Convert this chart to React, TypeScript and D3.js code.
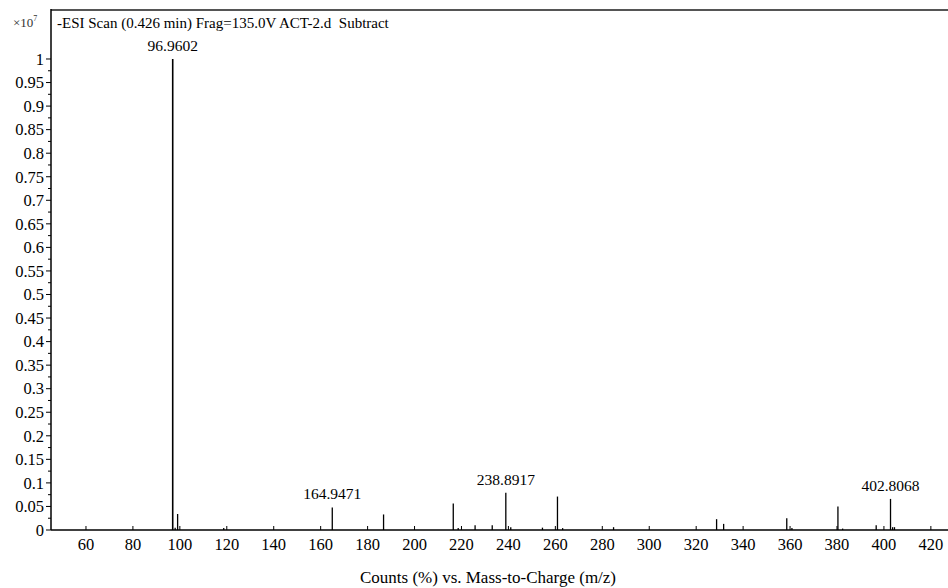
import React from "react";
import * as d3 from "d3";

// Mass spectrum peaks: m/z and relative counts (x10^7)
const peakMz: number[] = [
  96.9602, 98.0, 99.05, 118.7, 164.9471, 186.8, 216.5, 218.6, 225.8, 233.1,
  238.8917, 241.0, 254.5, 260.9, 263.1, 284.8, 328.7, 331.7, 358.6, 360.8,
  380.4, 382.4, 396.7, 402.8068, 403.7, 404.5,
];
const peakCounts: number[] = [
  1.0, 0.005, 0.034, 0.004, 0.048, 0.033, 0.056, 0.004, 0.01, 0.01,
  0.079, 0.006, 0.005, 0.071, 0.004, 0.006, 0.023, 0.013, 0.025, 0.004,
  0.05, 0.003, 0.01, 0.066, 0.006, 0.006,
];
// Peaks that carry an m/z annotation
const labeledPeaks: number[] = [96.9602, 164.9471, 238.8917, 402.8068];

const xTickValues: number[] = d3.range(60, 421, 20);
const yTickValues: number[] = d3.range(0, 1.0001, 0.05);
const yMinorValues: number[] = d3.range(0.025, 1.0, 0.05);

const title = "-ESI Scan (0.426 min) Frag=135.0V ACT-2.d\u00a0\u00a0Subtract";
const xTitle = "Counts (%) vs. Mass-to-Charge (m/z)";

const W = 948;
const H = 588;
const left = 51;
const top = 10;
const bottom = 530;
const right = 948;

const FONT = "'Liberation Serif', 'Times New Roman', serif";

export default function App() {
  const x = d3.scaleLinear().domain([45.1, 427.3]).range([left, right]);
  const y = d3.scaleLinear().domain([0, 1.104]).range([bottom, top]);

  const fmtY = (v: number) => {
    const r = Math.round(v * 100) / 100;
    return r === 0 ? "0" : r === 1 ? "1" : String(r);
  };

  return (
    <svg
      width={W}
      height={H}
      style={{ position: "absolute", left: 0, top: 0, background: "#fff" }}
      fontFamily={FONT}
    >
      {/* frame */}
      <line x1={left} x2={right} y1={top} y2={top} stroke="#555" strokeWidth={2} />
      <line x1={left} x2={left} y1={top - 1} y2={bottom} stroke="#000" strokeWidth={1.5} />
      <line x1={left} x2={right} y1={bottom} y2={bottom} stroke="#000" strokeWidth={1.5} />

      {/* exponent marker */}
      <text x={13} y={27} fontSize={13} fill="#333">
        ×10
        <tspan dy={-6} fontSize={8}>7</tspan>
      </text>

      {/* scan title */}
      <text x={57} y={28} fontSize={15} fill="#000">
        {title}
      </text>

      {/* y axis */}
      {yTickValues.map((v) => (
        <g key={"y" + v}>
          <line x1={left - 5} x2={left} y1={y(v)} y2={y(v)} stroke="#000" strokeWidth={1} />
          <text
            x={left - 7}
            y={y(v)}
            dy="0.35em"
            textAnchor="end"
            fontSize={16.5}
            fill="#000"
          >
            {fmtY(v)}
          </text>
        </g>
      ))}
      {yMinorValues.map((v) => (
        <line
          key={"ym" + v}
          x1={left - 3}
          x2={left}
          y1={y(v)}
          y2={y(v)}
          stroke="#000"
          strokeWidth={1}
        />
      ))}

      {/* x axis */}
      {xTickValues.map((v) => (
        <g key={"x" + v}>
          <line x1={x(v)} x2={x(v)} y1={bottom} y2={bottom - 4} stroke="#000" strokeWidth={1} />
          <text x={x(v)} y={550} textAnchor="middle" fontSize={16.5} fill="#000">
            {v}
          </text>
        </g>
      ))}
      <text x={488} y={583} textAnchor="middle" fontSize={17} fill="#000">
        {xTitle}
      </text>

      {/* peaks */}
      {peakMz.map((mz, i) => (
        <line
          key={"p" + i}
          x1={x(mz)}
          x2={x(mz)}
          y1={bottom}
          y2={y(peakCounts[i])}
          stroke="#000"
          strokeWidth={i === 0 ? 1.6 : 1.3}
        />
      ))}
      {peakMz.map((mz, i) =>
        labeledPeaks.includes(mz) ? (
          <text
            key={"l" + i}
            x={x(mz)}
            y={y(peakCounts[i]) - 8}
            textAnchor="middle"
            fontSize={15.5}
            fill="#000"
          >
            {mz.toFixed(4)}
          </text>
        ) : null
      )}
    </svg>
  );
}
